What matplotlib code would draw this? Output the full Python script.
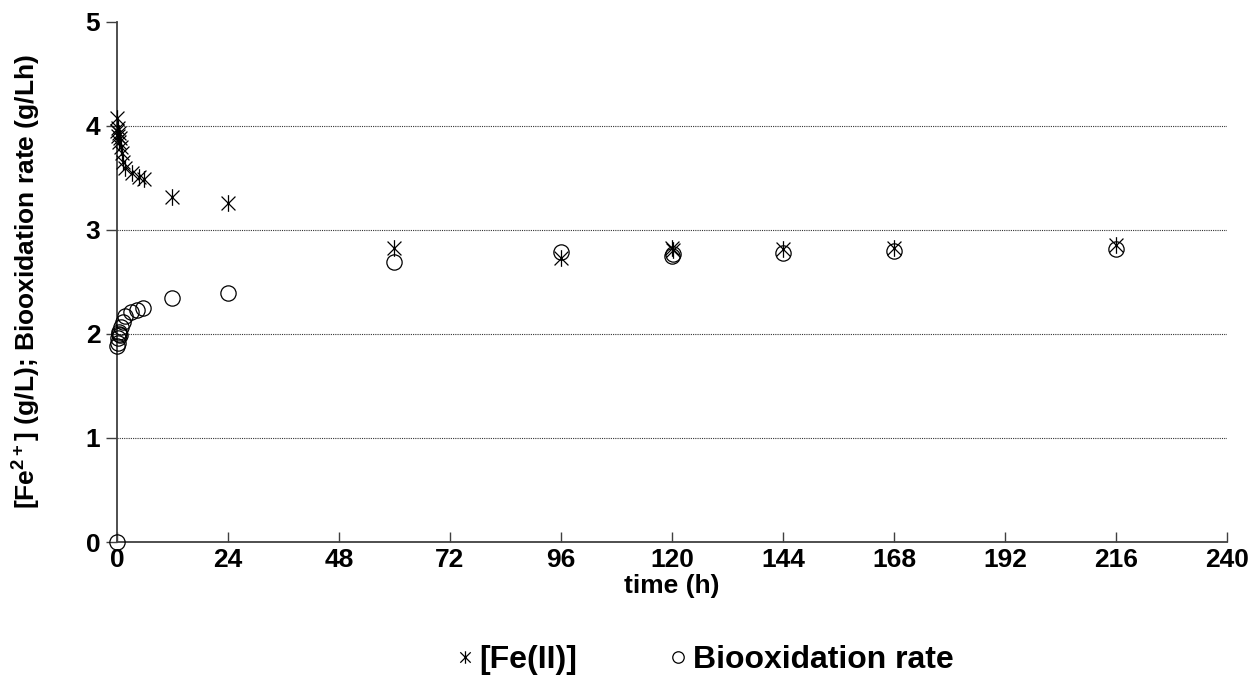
import matplotlib.pyplot as plt
from matplotlib.path import Path

plt.rcParams['font.family'] = ['Liberation Sans', 'DejaVu Sans']
plt.rcParams['mathtext.fontset'] = 'custom'
plt.rcParams['mathtext.rm'] = 'Liberation Sans'
plt.rcParams['mathtext.bf'] = 'Liberation Sans:bold'

# Fe(II) concentration (g/L)
time_fe = [0, 0.1, 0.2, 0.3, 0.4, 0.5, 0.6, 0.8, 1.0, 1.3, 1.7, 3.2, 4.8, 5.8,
           12, 24, 60, 96, 120, 120.3, 144, 168, 216]
fe = [3.95, 4.08, 3.98, 3.90, 3.85, 3.93, 3.88, 3.80, 3.74, 3.65, 3.60, 3.55,
      3.51, 3.49, 3.32, 3.26, 2.83, 2.73, 2.83, 2.81, 2.82, 2.83, 2.86]

# biooxidation rate (g/Lh)
time_rate = [0, 0.1, 0.2, 0.3, 0.4, 0.5, 0.6, 0.9, 1.3, 1.7, 3.0, 4.4, 5.7,
             12, 24, 60, 96, 120, 120.3, 144, 168, 216]
rate = [0, 1.88, 1.91, 1.96, 2.00, 2.02, 1.99, 2.07, 2.12, 2.17, 2.21, 2.23,
        2.25, 2.35, 2.39, 2.69, 2.79, 2.75, 2.77, 2.78, 2.80, 2.82]

x_ticks = list(range(0, 241, 24))
y_ticks = [0, 1, 2, 3, 4, 5]

# star marker: an X with a vertical bar
star = Path([(-1, -1), (1, 1), (-1, 1), (1, -1), (0, -1.2), (0, 1.2)],
            [Path.MOVETO, Path.LINETO, Path.MOVETO, Path.LINETO,
             Path.MOVETO, Path.LINETO])

fig = plt.figure(figsize=(12.55, 6.86), dpi=100)
ax = fig.add_axes([0.0932, 0.2099, 0.8845, 0.7581])

ax.plot(time_fe, fe, linestyle='none', marker=star, markersize=12,
        markeredgecolor='black', markeredgewidth=0.9, color='black',
        label='[Fe(II)]', clip_on=False, zorder=3)
ax.plot(time_rate, rate, linestyle='none', marker='o', markersize=11,
        markerfacecolor='none', markeredgecolor='black', markeredgewidth=0.9,
        label='Biooxidation rate', clip_on=False, zorder=3)

ax.set_xlim(0, 240)
ax.set_ylim(0, 5)
ax.set_xticks(x_ticks)
ax.set_yticks(y_ticks)
ax.tick_params(axis='x', direction='in', length=7, width=1, pad=4,
               labelsize=19, color='#404040')
ax.tick_params(axis='y', direction='out', length=8, width=1, pad=4,
               labelsize=19, color='#404040')
for lab in ax.get_xticklabels() + ax.get_yticklabels():
    lab.set_fontweight('bold')

for v in [1, 2, 3, 4]:
    ax.axhline(v, color='#333333', linewidth=0.8, linestyle=(0, (1, 1)), zorder=1)

for s in ['top', 'right']:
    ax.spines[s].set_visible(False)
for s in ['left', 'bottom']:
    ax.spines[s].set_color('#404040')
    ax.spines[s].set_linewidth(1.3)

ax.set_xlabel('time (h)', fontsize=19, fontweight='bold', labelpad=2)
ax.set_ylabel('[Fe$^{\\mathbf{2+}}$] (g/L); Biooxidation rate (g/Lh)',
              fontsize=19, fontweight='bold', labelpad=31)

handles, labels = ax.get_legend_handles_labels()
leg = fig.legend(handles, labels, loc='center', bbox_to_anchor=(0.562, 0.038),
                 ncol=2, frameon=False, handlelength=0.5, handletextpad=0.2,
                 columnspacing=2.9, markerscale=0.75,
                 prop={'size': 23, 'weight': 'bold'})

fig.savefig('out.png', dpi=100)
